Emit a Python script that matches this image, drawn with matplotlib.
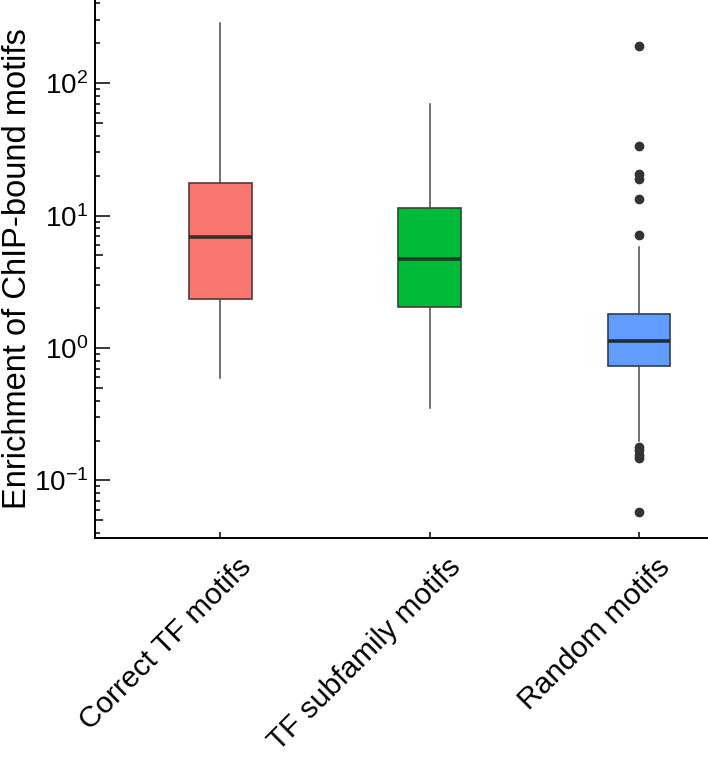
import matplotlib.pyplot as plt
import matplotlib.markers as mk
import matplotlib.ticker as mticker
import matplotlib.transforms as mtrans
import numpy as np

plt.rcParams['font.family'] = ['Liberation Sans', 'DejaVu Sans']
plt.rcParams['mathtext.fontset'] = 'custom'
plt.rcParams['mathtext.rm'] = 'Liberation Sans'

categories = ['Correct TF motifs', 'TF subfamily motifs', 'Random motifs']
box_colors = ['#F8766D', '#00BA38', '#619CFF']
median_colors = ['#3d2b2b', '#1d3a26', '#1e2d44']
edge_colors = ['#4e3c3c', '#2e4a36', '#2f3e55']

# box stats
q1 = [2.34, 2.04, 0.73]
med = [6.9, 4.7, 1.13]
q3 = [17.7, 11.4, 1.81]
whislo = [0.593, 0.352, 0.2]
whishi = [286, 69.8, 5.8]
fliers = [[], [], [192, 33.6, 20.6, 18.9, 13.3, 7.1, 0.18, 0.17, 0.155, 0.148, 0.058]]

yticks = [0.1, 1, 10, 100]
mid_ticks = [0.05, 0.5, 5, 50]


def main():
    fig = plt.figure(figsize=(7.08, 7.57), dpi=100)
    ax = fig.add_axes([0.134, 0.289, 0.866, 0.711])

    stats = []
    for i in range(3):
        stats.append(dict(med=med[i], q1=q1[i], q3=q3[i], whislo=whislo[i],
                          whishi=whishi[i], fliers=fliers[i]))
    bp = ax.bxp(stats, positions=[0, 1, 2], widths=0.3, patch_artist=True,
                showcaps=False,
                flierprops=dict(marker='o', markerfacecolor='#333333',
                                markeredgecolor='#333333', markersize=6),
                whiskerprops=dict(color='#4a4a4a', linewidth=1.1))
    for i, b in enumerate(bp['boxes']):
        b.set_facecolor(box_colors[i])
        b.set_edgecolor(edge_colors[i])
        b.set_linewidth(1.2)
        bp['medians'][i].set_color(median_colors[i])
        bp['medians'][i].set_linewidth(2.6)

    ax.set_yscale('log')
    ax.set_ylim(0.0366, 425)
    ax.set_xlim(-0.6, 2.33)

    ax.spines['top'].set_visible(False)
    ax.spines['right'].set_visible(False)
    ax.spines['left'].set_linewidth(1.4)
    ax.spines['bottom'].set_linewidth(1.4)

    ax.set_yticks(yticks)
    ax.set_yticklabels([r'$\mathregular{10^{%d}}$' % int(np.log10(v)) for v in yticks])
    ax.yaxis.set_minor_locator(mticker.LogLocator(base=10, subs=[2, 3, 4, 6, 7, 8, 9]))
    ax.yaxis.set_minor_formatter(mticker.NullFormatter())
    ax.tick_params(axis='y', which='major', direction='in', length=11, width=1.1,
                   labelsize=20, pad=5)
    ax.tick_params(axis='y', which='minor', direction='in', length=3.5, width=1.1)
    # medium ticks at the 5s
    ax.plot([0] * len(mid_ticks), mid_ticks, linestyle='none', marker=mk.TICKRIGHT,
            markersize=6, markeredgewidth=1.1, color='black',
            transform=ax.get_yaxis_transform(), clip_on=False)

    ax.set_xticks([0, 1, 2])
    ax.set_xticklabels(categories, rotation=45, ha='right', rotation_mode='anchor',
                       fontsize=21.5)
    ax.tick_params(axis='x', direction='in', length=4, width=1.1, pad=2)
    offset = mtrans.ScaledTranslation(17 / 100, -12 / 100, fig.dpi_scale_trans)
    for lab in ax.get_xticklabels():
        lab.set_transform(lab.get_transform() + offset)

    ax.set_ylabel('Enrichment of ChIP-bound motifs', fontsize=23.5)
    ax.yaxis.set_label_coords(-0.101, 0.5)

    fig.savefig('out.png', dpi=100)


if __name__ == "__main__":
    main()
